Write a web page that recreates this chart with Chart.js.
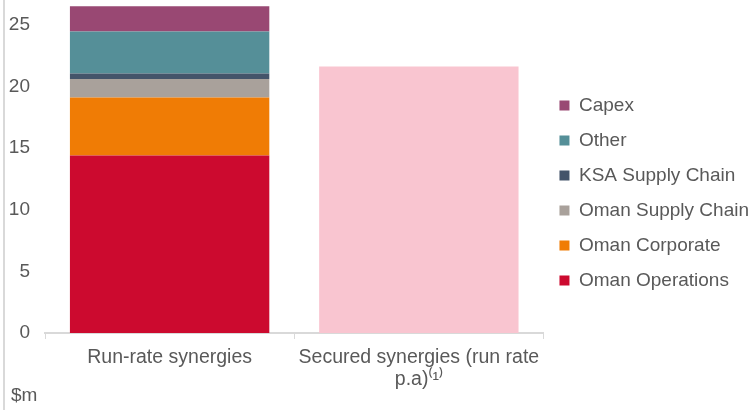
<!DOCTYPE html>
<html>
<head>
<meta charset="utf-8">
<script src="https://cdn.jsdelivr.net/npm/chart.js@4.4.1/dist/chart.umd.min.js"></script>
<style>
  html, body { margin: 0; padding: 0; background: #fff; }
  #wrap { position: relative; width: 749px; height: 410px; overflow: hidden; }
  #edge { position: absolute; left: 3px; top: 0; width: 2px; height: 410px; background: #d9d9d9; }
  #unit { position: absolute; left: 11px; top: 384px; font: 19px "Liberation Sans", Arial, sans-serif; color: #595959; }
</style>
</head>
<body>
<div id="wrap">
  <canvas id="chart" width="749" height="410"></canvas>
  <div id="edge"></div>
  <span id="unit">$m</span>
</div>
<script>
// categories
const categories = ['Run-rate synergies', ['Secured synergies (run rate', 'p.a)\u207D\u00B9\u207E']];

// run-rate breakdown, $m (bottom to top)
const omanOperations = [14.4, null];
const omanCorporate = [4.7, null];
const omanSupplyChain = [1.5, null];
const ksaSupplyChain = [0.45, null];
const other = [3.4, null];
const capex = [2.05, null];

// secured synergies total
const secured = [null, 21.6];

const yTicks = [0, 5, 10, 15, 20, 25];

const font = '"Liberation Sans", Arial, sans-serif';
const textColor = '#595959';

function ds(label, data, color, legend) {
  return { label, data, backgroundColor: color, stack: 's', inLegend: legend,
    barPercentage: 0.8, categoryPercentage: 1.0 };
}

// legend sits a little above the canvas middle in the original
const legendLift = {
  id: 'legendLift',
  afterLayout(chart) {
    chart.legend.top -= 12;
    chart.legend.bottom -= 12;
  }
};

new Chart(document.getElementById('chart'), {
  type: 'bar',
  data: {
    labels: categories,
    datasets: [
      ds('Oman Operations', omanOperations, '#CC0A2F', true),
      ds('Oman Corporate', omanCorporate, '#F07C05', true),
      ds('Oman Supply Chain', omanSupplyChain, '#A9A19B', true),
      ds('KSA Supply Chain', ksaSupplyChain, '#44546A', true),
      ds('Other', other, '#558F98', true),
      ds('Capex', capex, '#994873', true),
      ds('Secured synergies', secured, '#F9C5D0', false)
    ]
  },
  plugins: [legendLift],
  options: {
    responsive: false,
    animation: false,
    // negative right padding drops the empty strip the legend keeps on its right
    layout: { padding: { top: 0, right: -10, left: 0, bottom: 0 } },
    plugins: {
      tooltip: { enabled: false },
      legend: {
        position: 'right',
        reverse: true,
        maxWidth: 230,
        labels: {
          filter: (item, data) => data.datasets[item.datasetIndex].inLegend,
          boxWidth: 10,
          boxHeight: 10,
          padding: 16,
          color: textColor,
          font: { family: font, size: 19 }
        }
      }
    },
    scales: {
      x: {
        stacked: true,
        grid: { display: true, drawOnChartArea: false, tickLength: 6, color: '#d9d9d9', offset: true },
        border: { display: true, color: '#d9d9d9', width: 2 },
        ticks: { color: textColor, font: { family: font, size: 19.5, lineHeight: 1.1 }, padding: 8, maxRotation: 0, autoSkip: false },
        afterFit: s => { s.height = 77; s.paddingLeft = 0; s.paddingRight = 0; }
      },
      y: {
        stacked: true,
        min: 0,
        max: 27,
        grid: { display: false },
        border: { display: false },
        afterBuildTicks: s => { s.ticks = yTicks.map(v => ({ value: v })); },
        ticks: { color: textColor, font: { family: font, size: 19 }, padding: 7 },
        afterFit: s => { s.width = 45; s.paddingTop = 0; s.paddingBottom = 0; }
      }
    }
  }
});
</script>
</body>
</html>
